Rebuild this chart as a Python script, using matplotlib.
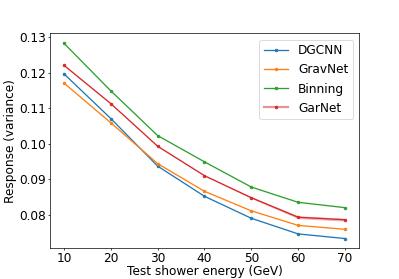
import numpy as np
import matplotlib
matplotlib.use("Agg")
import matplotlib.pyplot as plt

# energies (GeV) and response variance per model
energy = [10, 20, 30, 40, 50, 60, 70]
dgcnn = [0.1197, 0.1071, 0.0937, 0.0852, 0.0790, 0.0746, 0.0733]
gravnet = [0.1171, 0.1059, 0.0944, 0.0866, 0.0811, 0.0770, 0.0759]
binning = [0.1283, 0.1149, 0.1023, 0.0949, 0.0878, 0.0835, 0.0820]
garnet = [0.1221, 0.1113, 0.0993, 0.0910, 0.0848, 0.0793, 0.0786]
garnet_err = [0.0001, 0.0001, 0.0001, 0.0001, 0.0002, 0.0004, 0.0004]

plt.rcParams['font.size'] = 14
plt.rcParams['xtick.major.size'] = 2.5
plt.rcParams['ytick.major.size'] = 2.5
plt.rcParams['xtick.major.pad'] = 1.8
plt.rcParams['ytick.major.pad'] = 2.0

dpi = 62.34
fig, ax = plt.subplots(figsize=(399 / dpi, 279 / dpi), dpi=dpi)
l1, = ax.plot(energy, dgcnn, marker='.')
l2, = ax.plot(energy, gravnet, marker='.')
l3, = ax.plot(energy, binning, marker='.')
l4, = ax.plot(energy, garnet, marker='.')
lo = np.array(garnet) - np.array(garnet_err)
hi = np.array(garnet) + np.array(garnet_err)
ax.fill_between(energy, lo, hi, color='C3', alpha=0.35, linewidth=0)

# GarNet legend entry: light wide line with a solid marker
band_proxy = plt.Line2D([], [], color='C3', alpha=0.5, linewidth=2.5)
mark_proxy = plt.Line2D([], [], color='C3', marker='.', linestyle='none')

ax.set_xlabel('Test shower energy (GeV)', labelpad=0)
ax.set_ylabel('Response (variance)', labelpad=3)
ax.set_yticks([0.08, 0.09, 0.10, 0.11, 0.12, 0.13])
ax.legend([l1, l2, l3, (band_proxy, mark_proxy)],
          ['DGCNN', 'GravNet', 'Binning', 'GarNet'], loc='upper right')

fig.savefig('out.png', dpi=dpi)
